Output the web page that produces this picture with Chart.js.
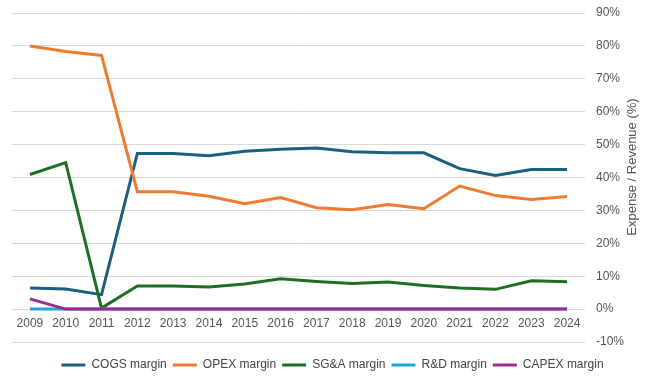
<!DOCTYPE html>
<html lang="en">
<head>
    <meta charset="UTF-8">
    <title>Margins</title>
    <script src="https://cdn.jsdelivr.net/npm/chart.js"></script>
    <style>
        html, body { margin: 0; padding: 0; background: #fff; }
        #box { width: 653px; height: 383px; }
    </style>
</head>
<body>
    <div id="box">
        <canvas id="grafico"></canvas>
    </div>
    <script>
        const anos = ["2009", "2010", "2011", "2012", "2013", "2014", "2015", "2016",
                      "2017", "2018", "2019", "2020", "2021", "2022", "2023", "2024"]

        const cogs  = [6.4, 6.1, 4.4, 47.3, 47.3, 46.6, 48.0, 48.6, 49.0, 47.8, 47.5, 47.5, 42.7, 40.6, 42.4, 42.4]
        const opex  = [80.0, 78.3, 77.1, 35.7, 35.7, 34.3, 32.0, 33.9, 30.8, 30.2, 31.8, 30.5, 37.4, 34.5, 33.3, 34.2]
        const sga   = [40.9, 44.5, 0.3, 7.0, 7.0, 6.7, 7.6, 9.2, 8.4, 7.8, 8.2, 7.2, 6.4, 6.0, 8.6, 8.3]
        const rnd   = [0, 0, 0, 0, 0, 0, 0, 0, 0, 0, 0, 0, 0, 0, 0, 0]
        const capex = [3.1, 0, 0, 0, 0, 0, 0, 0, 0, 0, 0, 0, 0, 0, 0, 0]

        const nomes = ["COGS margin", "OPEX margin", "SG&A margin", "R&D margin", "CAPEX margin"]
        const cores = ["#1b5f81", "#ef7a32", "#1e6f24", "#1da3db", "#9c2b97"]
        const series = [cogs, opex, sga, rnd, capex]
        const tituloY = "Expense / Revenue (%)"

        const fonte = "'Liberation Sans', Arial, Helvetica, sans-serif"

        // titulo do eixo y lido de baixo para cima
        const tituloPlugin = {
          id: 'tituloY',
          afterDraw(chart) {
            const c = chart.ctx
            c.save()
            c.translate(632, 167)
            c.rotate(-Math.PI / 2)
            c.fillStyle = '#555'
            c.font = "13px " + fonte
            c.textAlign = 'center'
            c.textBaseline = 'middle'
            c.fillText(tituloY, 0, 0)
            c.restore()
          }
        }

        const ctx = document.getElementById('grafico')

        new Chart(ctx, {
          type: 'line',
          data: {
            labels: anos,
            datasets: series.map((s, i) => ({
              label: nomes[i],
              data: s,
              borderColor: cores[i],
              backgroundColor: cores[i],
              borderWidth: 3,
              pointRadius: 0,
              tension: 0,
              fill: false,
              order: series.length - i
            }))
          },
          plugins: [tituloPlugin],
          options: {
            responsive: true,
            maintainAspectRatio: false,
            animation: false,
            layout: { padding: { left: 12, top: 13, right: 0, bottom: 2 } },
            plugins: {
              tooltip: { enabled: false },
              legend: {
                position: 'bottom',
                labels: {
                  boxWidth: 24,
                  boxHeight: 3,
                  padding: 6,
                  color: '#444',
                  font: { family: fonte, size: 12 },
                  generateLabels: chart => chart.data.datasets.map((d, i) => ({
                    text: d.label,
                    fillStyle: d.borderColor,
                    strokeStyle: d.borderColor,
                    lineWidth: 0,
                    fontColor: '#444',
                    datasetIndex: i,
                    hidden: false
                  }))
                }
              }
            },
            scales: {
              x: {
                type: 'category',
                position: { y: 0 },
                offset: true,
                grid: { display: false, drawTicks: false },
                border: { display: false },
                ticks: {
                  color: '#555',
                  padding: 7,
                  maxRotation: 0,
                  autoSkip: false,
                  font: { family: fonte, size: 12 }
                },
                afterFit: s => { s.paddingTop = 0; s.paddingBottom = 0 }
              },
              espaco: {
                type: 'category',
                position: 'bottom',
                grid: { display: false, drawTicks: false },
                border: { display: false },
                ticks: { display: false },
                afterFit: s => { s.height = 11 }
              },
              y: {
                position: 'right',
                min: -10,
                max: 90,
                grid: { color: '#d9d9d9', lineWidth: 1, drawTicks: false },
                border: { display: false },
                ticks: {
                  stepSize: 10,
                  padding: 11,
                  color: '#555',
                  font: { family: fonte, size: 12 },
                  callback: v => v + '%'
                },
                afterFit: s => { s.width = 68; s.paddingTop = 0; s.paddingBottom = 0 }
              }
            }
          }
        })
      </script>
</body>
</html>
